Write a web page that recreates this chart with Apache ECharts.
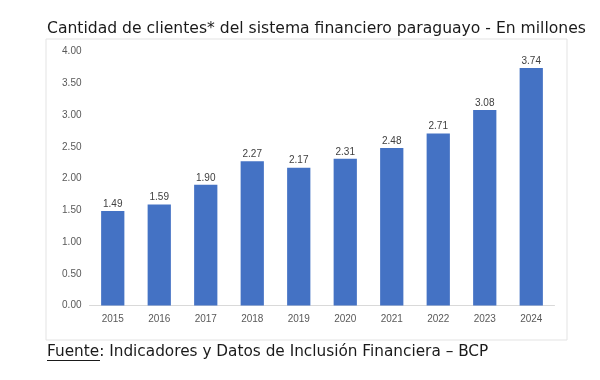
<!DOCTYPE html>
<html>
<head>
<meta charset="utf-8">
<script src="https://cdn.jsdelivr.net/npm/echarts@6/dist/echarts.min.js"></script>
<style>html,body{margin:0;padding:0;background:#fff}#c{width:600px;height:380px}</style>
</head>
<body>
<div id="c"></div>
<script>
const titleText = 'Cantidad de clientes* del sistema financiero paraguayo - En millones';
const sourceLabel = 'Fuente';
const sourceText = ': Indicadores y Datos de Inclusión Financiera – BCP';
const years = ['2015','2016','2017','2018','2019','2020','2021','2022','2023','2024'];
const clients = [1.49, 1.59, 1.90, 2.27, 2.17, 2.31, 2.48, 2.71, 3.08, 3.74];

const chart = echarts.init(document.getElementById('c'), null, {renderer: 'canvas'});
chart.setOption({
  animation: false,
  backgroundColor: '#ffffff',
  title: {
    text: titleText,
    left: 42, top: 16,
    textStyle: {fontFamily: 'DejaVu Sans', fontSize: 15.6, fontWeight: 'normal', color: '#1a1a1a'}
  },
  graphic: [
    {type: 'rect', shape: {x: 46, y: 39, width: 521, height: 301},
     style: {fill: 'none', stroke: '#e3e3e3', lineWidth: 1}, silent: true},
    {type: 'text', left: 47, top: 345,
     style: {text: sourceLabel + sourceText,
       fontFamily: 'DejaVu Sans', fontSize: 15.3, fill: '#1a1a1a'}},
    {type: 'line', shape: {x1: 47, y1: 360.5, x2: 100, y2: 360.5},
     style: {stroke: '#1a1a1a', lineWidth: 1}}
  ],
  grid: {left: 89.5, right: 45.5, top: 51.5, bottom: 74.5, containLabel: false},
  xAxis: {
    type: 'category', data: years,
    axisLine: {lineStyle: {color: '#d9d9d9'}},
    axisTick: {show: false},
    axisLabel: {color: '#595959', fontSize: 10, fontFamily: 'Liberation Sans', margin: 9}
  },
  yAxis: {
    type: 'value', min: 0, max: 4, interval: 0.5,
    splitLine: {show: false},
    axisLine: {show: false}, axisTick: {show: false},
    axisLabel: {color: '#595959', fontSize: 10, fontFamily: 'Liberation Sans', margin: 8,
      formatter: v => v.toFixed(2)}
  },
  series: [{
    type: 'bar', data: clients, barWidth: '50%',
    itemStyle: {color: '#4472C4'},
    label: {show: true, position: 'top', distance: 2, color: '#404040', fontSize: 10,
      fontFamily: 'Liberation Sans', formatter: p => p.value.toFixed(2)}
  }]
});
</script>
</body>
</html>
